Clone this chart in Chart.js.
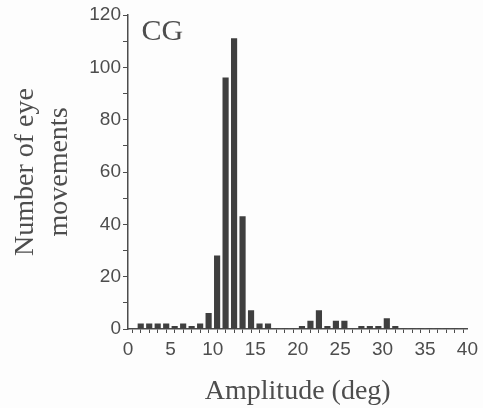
<!DOCTYPE html>
<html>
<head>
<meta charset="utf-8">
<script src="https://cdn.jsdelivr.net/npm/chart.js@4"></script>
<style>
  html, body { margin: 0; padding: 0; background: #fdfdfd; }
  canvas { display: block; }
</style>
</head>
<body>
<canvas id="hist" width="483" height="408"></canvas>
<script>
// amplitude bins (deg), centre of each 1-deg bin
const binCenters = [0.5, 1.5, 2.5, 3.5, 4.5, 5.5, 6.5, 7.5, 8.5, 9.5,
    10.5, 11.5, 12.5, 13.5, 14.5, 15.5, 16.5, 17.5, 18.5, 19.5,
    20.5, 21.5, 22.5, 23.5, 24.5, 25.5, 26.5, 27.5, 28.5, 29.5,
    30.5, 31.5, 32.5, 33.5, 34.5, 35.5, 36.5, 37.5, 38.5, 39.5];

// number of eye movements per bin
const counts = [0, 2, 2, 2, 2, 1, 2, 1, 2, 6,
    28, 96, 111, 43, 7, 2, 2, 0, 0, 0,
    1, 3, 7, 1, 3, 3, 0, 1, 1, 1,
    4, 1, 0, 0, 0, 0, 0, 0, 0, 0];

const xTickLabels = [0, 5, 10, 15, 20, 25, 30, 35, 40];
const yTickLabels = [0, 20, 40, 60, 80, 100, 120];

const panelLabel = 'CG';
const xTitle = 'Amplitude (deg)';
const yTitle = ['Number of eye', 'movements'];

const ink = '#4d4d4d';
const barColor = '#3f3f3f';

const panelLabelPlugin = {
    id: 'panelLabel',
    afterDraw(chart) {
        const { ctx, chartArea } = chart;
        ctx.save();
        ctx.fillStyle = ink;
        ctx.font = '30px "Liberation Serif"';
        ctx.textBaseline = 'alphabetic';
        ctx.fillText(panelLabel, chartArea.left + 13.5, chartArea.top + 25);
        ctx.restore();
    }
};

new Chart(document.getElementById('hist'), {
    type: 'bar',
    data: {
        datasets: [{
            data: binCenters.map((c, i) => ({ x: c, y: counts[i] })),
            backgroundColor: barColor,
            borderWidth: 0,
            barThickness: 5.5
        }]
    },
    options: {
        responsive: false,
        animation: false,
        layout: { padding: { top: 15, right: 13, left: 0, bottom: 0 } },
        plugins: {
            legend: { display: false },
            tooltip: { enabled: false }
        },
        scales: {
            x: {
                type: 'linear',
                min: 0,
                max: 40,
                offset: false,
                afterFit: (scale) => { scale.height = 79; },
                border: { display: true, color: ink, width: 1.5 },
                grid: { display: true, drawOnChartArea: false, drawTicks: true, tickLength: 4, color: ink, lineWidth: 1 },
                ticks: {
                    stepSize: 1,
                    autoSkip: false,
                    maxRotation: 0,
                    padding: 5,
                    color: ink,
                    font: { family: '"Liberation Sans"', size: 19 },
                    callback: (v) => xTickLabels.includes(v) ? String(v) : ''
                },
                title: {
                    display: true,
                    text: xTitle,
                    color: ink,
                    padding: { top: 0, bottom: 0 },
                    font: { family: '"Liberation Serif"', size: 28 }
                }
            },
            y: {
                min: 0,
                max: 120,
                afterFit: (scale) => { scale.width = 128; },
                border: { display: true, color: ink, width: 1.5 },
                grid: { display: true, drawOnChartArea: false, drawTicks: true, tickLength: 5, color: ink, lineWidth: 1 },
                ticks: {
                    stepSize: 10,
                    autoSkip: false,
                    padding: 2,
                    color: ink,
                    font: { family: '"Liberation Sans"', size: 19 },
                    callback: (v) => yTickLabels.includes(v) ? String(v) : ''
                },
                title: {
                    display: true,
                    text: yTitle,
                    color: ink,
                    padding: { top: 9, bottom: 0 },
                    font: { family: '"Liberation Serif"', size: 28 }
                }
            }
        }
    },
    plugins: [panelLabelPlugin]
});
</script>
</body>
</html>
